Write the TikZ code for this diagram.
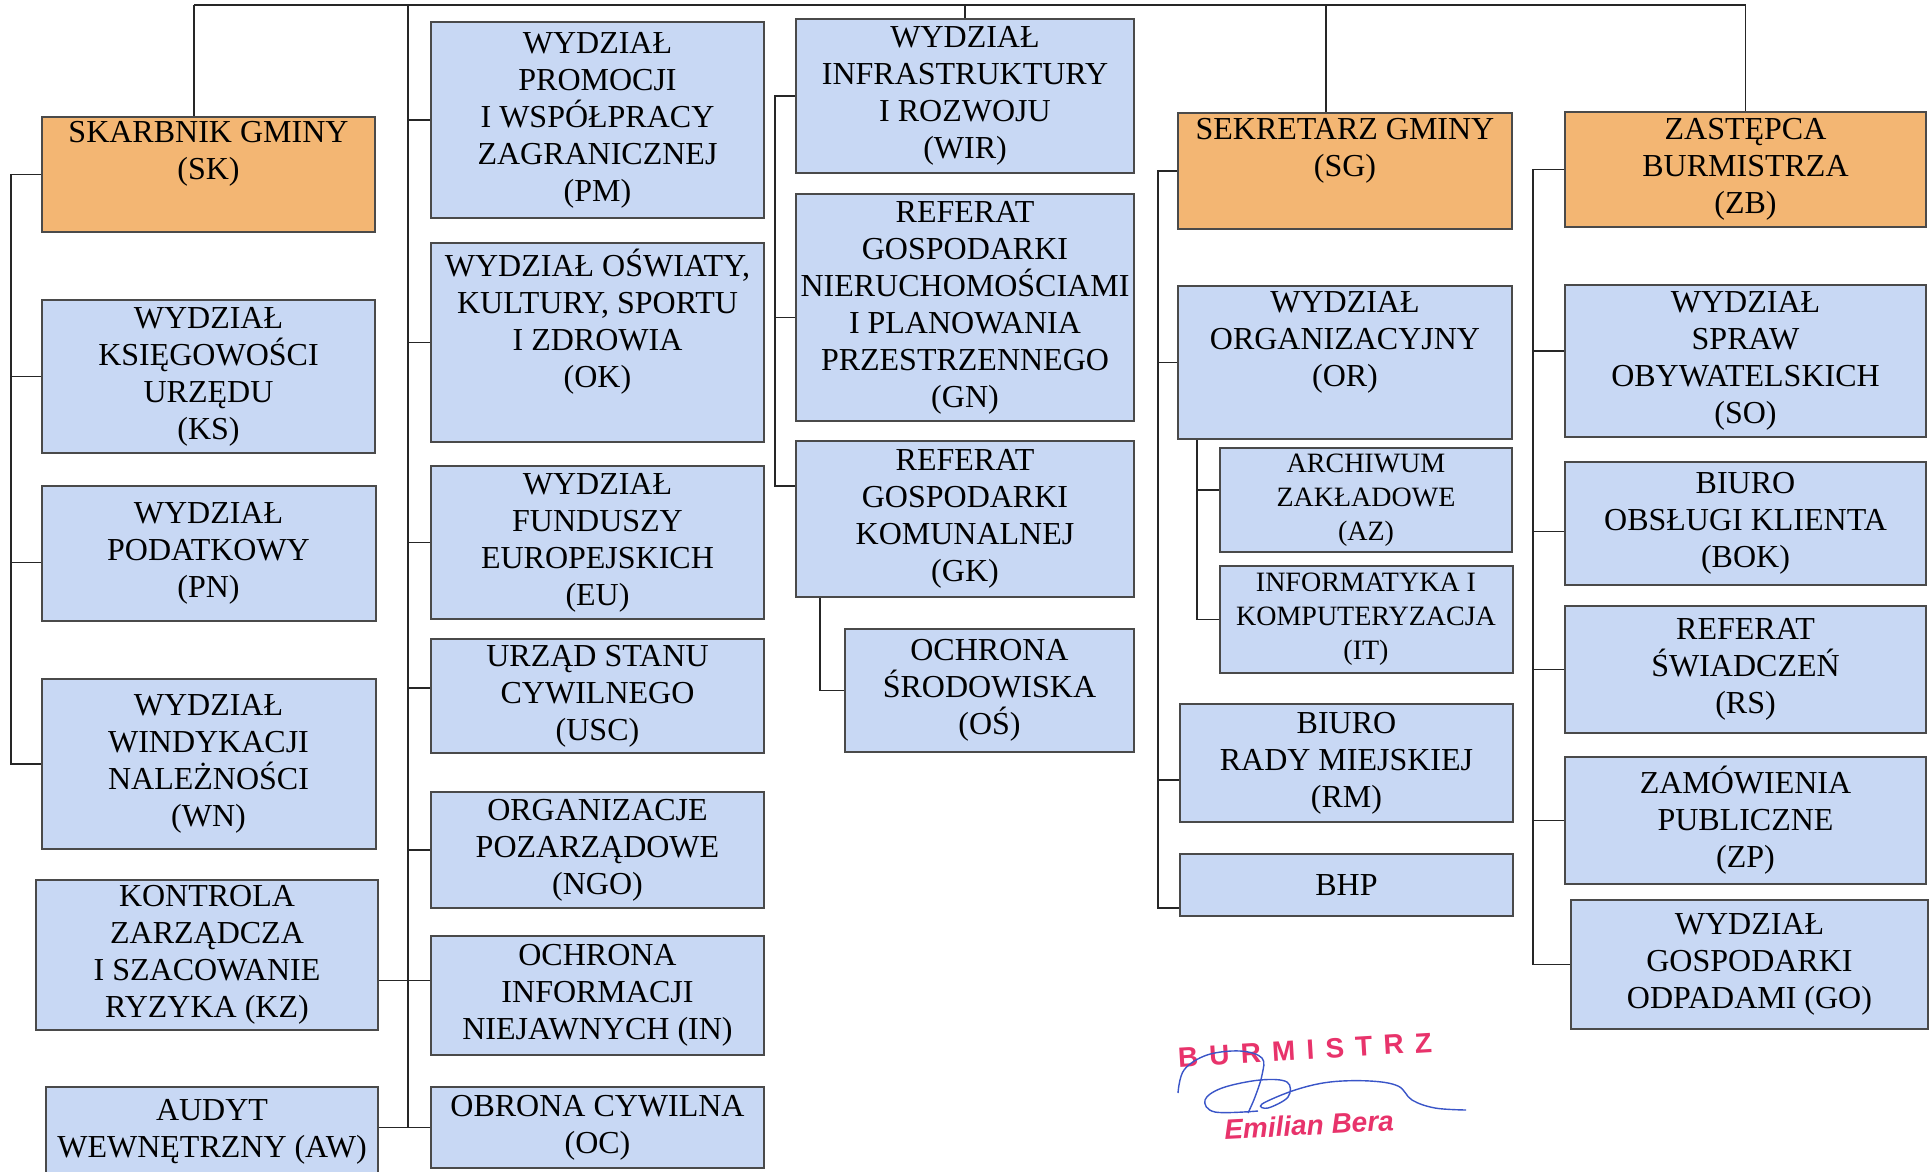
\documentclass[tikz,border=0pt]{standalone}
\usepackage{fontspec}
\setmainfont{Liberation Serif}
\newfontfamily\stampfont[LetterSpace=40]{Liberation Sans}
\newfontfamily\namefont{Liberation Sans}
\usetikzlibrary{positioning}
\definecolor{unitBlue}{HTML}{C8D8F4}
\definecolor{headOrange}{HTML}{F3B673}
\definecolor{edgeGray}{HTML}{4A4A4A}
\definecolor{stampRed}{HTML}{E8336B}
\definecolor{inkBlue}{HTML}{3A55C8}

\begin{document}
\begin{tikzpicture}[x=1pt, y=-1pt,
    unit/.style={draw=edgeGray, line width=2pt, fill=unitBlue, inner sep=0pt, align=center, font=\fontsize{32}{37}\selectfont},
    head/.style={unit, fill=headOrange},
    smallunit/.style={font=\fontsize{28}{34}\selectfont},
    wh/.style 2 args={minimum width=#1pt, minimum height=#2pt},
    link/.style={line width=1.6pt, draw=black!85},
    stamp/.style={text=stampRed, inner sep=0pt, font=\stampfont\bfseries\fontsize{28}{30}\selectfont},
    signame/.style={text=stampRed, inner sep=0pt, font=\namefont\bfseries\itshape\fontsize{28}{30}\selectfont}]
  \useasboundingbox (0,0) rectangle (1930,1171);
  \fill[white] (0,0) rectangle (1930,1171);

  \node[head, wh={333}{115}] (sk) at (208.5,174.5) {SKARBNIK GMINY\\(SK)\\\strut};
  \node[unit, wh={333}{153}, below=66pt of sk] (ks) {WYDZIAŁ\\KSIĘGOWOŚCI\\URZĘDU\\(KS)};
  \node[unit, wh={334}{135}, below=31pt of ks] (pn) {WYDZIAŁ\\PODATKOWY\\(PN)};
  \node[unit, wh={334}{170}, below=56pt of pn] (wn) {WYDZIAŁ\\WINDYKACJI\\NALEŻNOŚCI\\(WN)};
  \node[unit, wh={342}{150}] (kz) at (207,955) {KONTROLA\\ZARZĄDCZA\\I SZACOWANIE\\RYZYKA (KZ)};
  \node[unit, wh={332}{90}] (aw) at (212,1132) {AUDYT\\WEWNĘTRZNY (AW)};

  \node[unit, wh={333}{196}] (pm) at (597.5,120) {WYDZIAŁ\\PROMOCJI\\I WSPÓŁPRACY\\ZAGRANICZNEJ\\(PM)};
  \node[unit, wh={333}{199}, below=23pt of pm] (ok) {WYDZIAŁ OŚWIATY,\\KULTURY, SPORTU\\I ZDROWIA\\(OK)\\\strut};
  \node[unit, wh={333}{153}, below=22pt of ok] (eu) {WYDZIAŁ\\FUNDUSZY\\EUROPEJSKICH\\(EU)};
  \node[unit, wh={333}{114}, below=18pt of eu] (usc) {URZĄD STANU\\CYWILNEGO\\(USC)};
  \node[unit, wh={333}{116}, below=37pt of usc] (ngo) {ORGANIZACJE\\POZARZĄDOWE\\(NGO)};
  \node[unit, wh={333}{119}, below=26pt of ngo] (inj) {OCHRONA\\INFORMACJI\\NIEJAWNYCH (IN)};
  \node[unit, wh={333}{81}, below=30pt of inj] (oc) {OBRONA CYWILNA\\(OC)};

  \node[unit, wh={338}{154}] (wir) at (965,96) {WYDZIAŁ\\INFRASTRUKTURY\\I ROZWOJU\\(WIR)};
  \node[unit, wh={338}{227}, below=19pt of wir] (gn) {REFERAT\\GOSPODARKI\\NIERUCHOMOŚCIAMI\\I PLANOWANIA\\PRZESTRZENNEGO\\(GN)};
  \node[unit, wh={338}{156}, below=18pt of gn] (gk) {REFERAT\\GOSPODARKI\\KOMUNALNEJ\\(GK)};
  \node[unit, wh={289}{123}] (os) at (989.5,690.5) {OCHRONA\\ŚRODOWISKA\\(OŚ)};

  \node[head, wh={334}{116}] (sg) at (1345,171) {SEKRETARZ GMINY\\(SG)\\\strut};
  \node[unit, wh={334}{153}, below=55pt of sg] (orz) {WYDZIAŁ\\ORGANIZACYJNY\\(OR)\\\strut};
  \node[unit, smallunit, wh={292}{104}] (az) at (1366,500) {ARCHIWUM\\ZAKŁADOWE\\(AZ)};
  \node[unit, smallunit, wh={293}{107}, below=12pt of az] (it) {INFORMATYKA I\\KOMPUTERYZACJA\\(IT)};
  \node[unit, wh={333}{118}] (rm) at (1346.5,763) {BIURO\\RADY MIEJSKIEJ\\(RM)};
  \node[unit, wh={333}{62}, below=30pt of rm] (bhp) {BHP};

  \node[head, wh={361}{115}] (zb) at (1745.5,169.5) {ZASTĘPCA\\BURMISTRZA\\(ZB)};
  \node[unit, wh={361}{152}, below=56pt of zb] (so) {WYDZIAŁ\\SPRAW\\OBYWATELSKICH\\(SO)};
  \node[unit, wh={361}{123}, below=23pt of so] (bok) {BIURO\\OBSŁUGI KLIENTA\\(BOK)};
  \node[unit, wh={361}{127}, below=19pt of bok] (rs) {REFERAT\\ŚWIADCZEŃ\\(RS)};
  \node[unit, wh={361}{127}, below=22pt of rs] (zp) {ZAMÓWIENIA\\PUBLICZNE\\(ZP)};
  \node[unit, wh={357}{129}] (go) at (1749.5,964.5) {WYDZIAŁ\\GOSPODARKI\\ODPADAMI (GO)};

  \coordinate (topline) at (0,5);
  \coordinate (skdrop) at (194,5);
  \coordinate (sgdrop) at (1326,5);
  \coordinate (skbus) at (11,0);
  \coordinate (midbus) at (408,5);
  \coordinate (wirbus) at (775,0);
  \coordinate (osbus) at (820,0);
  \coordinate (sgbus) at (1158,0);
  \coordinate (orbus) at (1197,0);
  \coordinate (zbbus) at (1533,0);

  \draw[link] (skdrop) -- (skdrop |- sk.north);
  \draw[link] (skdrop) -- (topline -| zb.north) -- (zb.north);
  \draw[link] (sgdrop) -- (sgdrop |- sg.north);
  \draw[link] (wir.north) -- (topline -| wir.north);

  \draw[link] (sk.west) -| (skbus |- wn.west) -- (wn.west);
  \foreach \n/\s in {ks/0pt,pn/-9pt}
    \draw[link] ([yshift=\s]\n.west) -- ([yshift=\s]\n.west -| skbus);

  \draw[link] (midbus) |- (oc.west);
  \foreach \n/\s in {pm/0pt,ok/0pt,eu/0pt,usc/8pt,ngo/0pt,inj/15pt}
    \draw[link] ([yshift=\s]\n.west) -- ([yshift=\s]\n.west -| midbus);
  \draw[link] ([yshift=15pt]inj.west) -- ([yshift=15pt]inj.west -| kz.east);
  \draw[link] (oc.west) -- (oc.west -| aw.east);

  \draw[link] (wir.west) -| ([yshift=33pt]wirbus |- gk.west) -- ([yshift=33pt]gk.west);
  \draw[link] ([yshift=-10pt]gn.west) -- ([yshift=-10pt]gn.west -| wirbus);
  \draw[link] (osbus |- gk.south) |- (os.west);

  \draw[link] (sg.west) -| ([yshift=-23pt]sgbus |- bhp.west) -- ([yshift=-23pt]bhp.west);
  \foreach \n/\s in {orz/0pt,rm/-17pt}
    \draw[link] ([yshift=\s]\n.west) -- ([yshift=\s]\n.west -| sgbus);
  \draw[link] (orbus |- orz.south) |- (it.west);
  \draw[link] ([yshift=10pt]az.west) -- ([yshift=10pt]az.west -| orbus);

  \draw[link] (zb.west) -| (zbbus |- go.west) -- (go.west);
  \foreach \n/\s in {so/10pt,bok/-8pt,rs/0pt,zp/0pt}
    \draw[link] ([yshift=\s]\n.west) -- ([yshift=\s]\n.west -| zbbus);

  \node[stamp, rotate=3.4] (burm) at (1305,1050) {BURMISTRZ};
  \node[signame, rotate=3] (bera) at (1309,1125) {Emilian Bera};
  \draw[inkBlue, line width=1.4pt] plot[smooth, tension=0.6] coordinates {(1178,1093) (1184,1070) (1207,1055) (1240,1051) (1262,1058) (1262,1075) (1255,1097) (1248,1113)};
  \draw[inkBlue, line width=1.4pt] plot[smooth, tension=0.6] coordinates {(1258,1111) (1215,1112) (1205,1100) (1222,1088) (1260,1080) (1287,1082) (1288,1097) (1268,1108) (1262,1104) (1295,1090) (1330,1082) (1370,1081) (1398,1086) (1412,1100) (1435,1108) (1466,1110)};
\end{tikzpicture}
\end{document}
